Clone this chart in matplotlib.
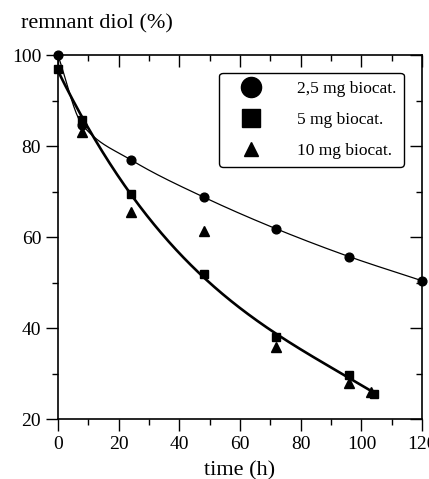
import numpy as np
import matplotlib
matplotlib.use('Agg')
from matplotlib import pyplot as plt
from matplotlib.lines import Line2D
from matplotlib.ticker import MultipleLocator

# data
t_circ = [0, 8, 24, 48, 72, 96, 120]
y_circ = [100, 84.7, 77.0, 68.8, 61.8, 55.7, 50.4]
t_sq = [0, 8, 24, 48, 72, 96, 104]
y_sq = [96.9, 85.8, 69.4, 51.8, 38.0, 29.6, 25.6]
t_tri = [8, 24, 48, 72, 96, 103]
y_tri = [83.1, 65.6, 61.4, 35.9, 28.0, 26.0]
labels = ['2,5 mg biocat.', '5 mg biocat.', '10 mg biocat.']


def pchip(x, y, xs):
    '''monotone cubic through the points, used for the thin guide line'''
    x = np.asarray(x, float)
    y = np.asarray(y, float)
    h = np.diff(x)
    d = np.diff(y) / h
    m = np.zeros_like(y)
    for i in range(1, len(y) - 1):
        if d[i - 1] * d[i] > 0:
            w1 = 2 * h[i] + h[i - 1]
            w2 = h[i] + 2 * h[i - 1]
            m[i] = (w1 + w2) / (w1 / d[i - 1] + w2 / d[i])
    m[0] = d[0]
    m[-1] = d[-1]
    idx = np.clip(np.searchsorted(x, xs) - 1, 0, len(x) - 2)
    s = (xs - x[idx]) / h[idx]
    h00 = 2 * s**3 - 3 * s**2 + 1
    h10 = s**3 - 2 * s**2 + s
    h01 = -2 * s**3 + 3 * s**2
    h11 = s**3 - s**2
    return (h00 * y[idx] + h10 * h[idx] * m[idx] + h01 * y[idx + 1]
            + h11 * h[idx] * m[idx + 1])


plt.rcParams['font.family'] = ['Liberation Serif', 'DejaVu Serif']
fig = plt.figure(figsize=(4.29, 4.79), dpi=100)
ax = fig.add_axes([0.135, 0.125, 0.849, 0.760])

xs = np.linspace(t_circ[0], t_circ[-1], 300)
ax.plot(xs, pchip(t_circ, y_circ, xs), color='black', lw=0.9, clip_on=False)
# smooth fitted curve through the 5 mg points
coef = np.polyfit(t_sq, y_sq, 3)
xs2 = np.linspace(t_sq[0], t_sq[-1], 300)
ax.plot(xs2, np.polyval(coef, xs2), color='black', lw=1.9, clip_on=False)

ax.plot(t_circ, y_circ, 'o', color='black', ms=6.3, clip_on=False, zorder=3)
ax.plot(t_sq, y_sq, 's', color='black', ms=6.3, clip_on=False, zorder=3)
ax.plot(t_tri, y_tri, '^', color='black', ms=7, clip_on=False, zorder=3)

ax.set_xlim(0, 120)
ax.set_ylim(20, 100)
ax.xaxis.set_major_locator(MultipleLocator(20))
ax.xaxis.set_minor_locator(MultipleLocator(10))
ax.yaxis.set_major_locator(MultipleLocator(20))
ax.yaxis.set_minor_locator(MultipleLocator(10))
ax.tick_params(which='both', top=True, right=True, direction='out',
               labelsize=14, width=1, color='black')
ax.tick_params(which='major', length=8.5)
ax.tick_params(which='minor', length=4)
# top and right ticks point into the plot
for t in ax.xaxis.get_major_ticks() + ax.xaxis.get_minor_ticks():
    t.tick2line.set_marker(matplotlib.lines.TICKDOWN)
for t in ax.yaxis.get_major_ticks() + ax.yaxis.get_minor_ticks():
    t.tick2line.set_marker(matplotlib.lines.TICKLEFT)
for sp in ax.spines.values():
    sp.set_linewidth(1.2)

ax.set_xlabel('time (h)', fontsize=16, labelpad=6)
fig.text(0.05, 0.95, 'remnant diol (%)', fontsize=16, va='center', ha='left')

handles = [Line2D([], [], ls='none', marker='o', color='black', ms=14.5),
           Line2D([], [], ls='none', marker='s', color='black', ms=13.5),
           Line2D([], [], ls='none', marker='^', color='black', ms=10)]
leg = ax.legend(handles, labels, loc='upper right', bbox_to_anchor=(0.95, 0.951),
                borderaxespad=0, fontsize=12.5, frameon=True, fancybox=True,
                handlelength=2.7, handletextpad=1.3, labelspacing=0.85,
                borderpad=0.45)
leg.get_frame().set_edgecolor('black')
leg.get_frame().set_linewidth(1.0)
leg.get_frame().set_alpha(1)

fig.savefig('out.png', dpi=100)
